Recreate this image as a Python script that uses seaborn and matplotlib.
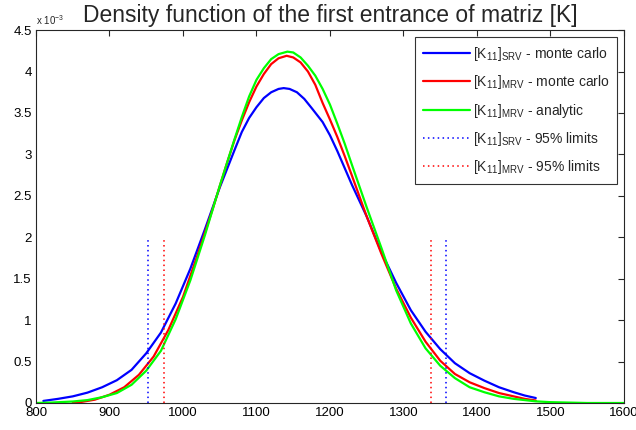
import numpy as np
import pandas as pd
import matplotlib
matplotlib.use("Agg")
import matplotlib.pyplot as plt
import seaborn as sns
from matplotlib.ticker import FuncFormatter

# density values, in units of 1e-3
blue_x = [810, 830, 850, 870, 890, 910, 930, 950, 970, 990, 1010, 1030, 1050, 1070, 1080,
          1090, 1100, 1110, 1120, 1130, 1137, 1145, 1155, 1165, 1175, 1190, 1200, 1210, 1230,
          1250, 1270, 1290, 1310, 1330, 1350, 1370, 1390, 1410, 1430, 1450, 1465, 1480]
blue_y = [0.025, 0.05, 0.08, 0.125, 0.19, 0.275, 0.40, 0.60, 0.85, 1.20, 1.62, 2.10, 2.60,
          3.05, 3.27, 3.44, 3.57, 3.68, 3.75, 3.79, 3.80, 3.79, 3.75, 3.67, 3.56, 3.39, 3.23,
          3.04, 2.63, 2.25, 1.82, 1.45, 1.12, 0.86, 0.65, 0.48, 0.36, 0.27, 0.19, 0.13, 0.09,
          0.06]

red_x = [850, 860, 880, 900, 920, 940, 960, 980, 1000, 1020, 1040, 1060, 1070, 1080, 1090,
         1100, 1110, 1120, 1130, 1141, 1150, 1160, 1170, 1180, 1190, 1200, 1210, 1220, 1230,
         1250, 1270, 1290, 1310, 1330, 1350, 1370, 1390, 1410, 1430, 1450, 1465, 1480]
red_y = [0.005, 0.01, 0.04, 0.10, 0.19, 0.34, 0.56, 0.88, 1.28, 1.79, 2.33, 2.90, 3.17, 3.41,
         3.63, 3.82, 3.97, 4.09, 4.16, 4.19, 4.17, 4.11, 4.00, 3.84, 3.62, 3.42, 3.21, 2.98,
         2.74, 2.25, 1.80, 1.38, 1.03, 0.74, 0.51, 0.35, 0.25, 0.18, 0.12, 0.08, 0.05, 0.03]

green_x = [800, 820, 850, 870, 890, 910, 930, 950, 970, 990, 1010, 1030, 1050, 1070, 1080,
           1090, 1100, 1110, 1120, 1130, 1142, 1150, 1160, 1170, 1180, 1190, 1200, 1210, 1220,
           1230, 1250, 1270, 1290, 1310, 1330, 1350, 1370, 1390, 1410, 1430, 1450, 1480, 1500,
           1550, 1600]
green_y = [0.0, 0.005, 0.018, 0.035, 0.07, 0.12, 0.22, 0.39, 0.63, 1.01, 1.48, 2.03, 2.62,
           3.18, 3.45, 3.70, 3.90, 4.04, 4.15, 4.21, 4.24, 4.23, 4.17, 4.07, 3.95, 3.79, 3.60,
           3.37, 3.13, 2.87, 2.36, 1.87, 1.36, 0.96, 0.66, 0.45, 0.30, 0.19, 0.13, 0.08, 0.05,
           0.02, 0.01, 0.0, 0.0]

srv_limits = [953, 1358]
mrv_limits = [974, 1338]
limit_top = 2.0

labels = [r"$[\mathrm{K}_{11}]_{\mathrm{SRV}}$ - monte carlo",
          r"$[\mathrm{K}_{11}]_{\mathrm{MRV}}$ - monte carlo",
          r"$[\mathrm{K}_{11}]_{\mathrm{MRV}}$ - analytic",
          r"$[\mathrm{K}_{11}]_{\mathrm{SRV}}$ - 95% limits",
          r"$[\mathrm{K}_{11}]_{\mathrm{MRV}}$ - 95% limits"]

sns.set_style("white")
plt.rcParams["font.family"] = ["Liberation Sans", "DejaVu Sans"]
plt.rcParams["mathtext.fontset"] = "custom"
plt.rcParams["mathtext.rm"] = "Liberation Sans"
plt.rcParams["mathtext.it"] = "Liberation Sans:italic"

fig = plt.figure(figsize=(6.36, 4.30), dpi=100)
ax = fig.add_axes([0.0566, 0.0628, 0.9245, 0.8672])

sc = 1e-3
sns.lineplot(x=blue_x, y=np.array(blue_y) * sc, color="#0000ff", lw=1.6, ax=ax, label=labels[0])
sns.lineplot(x=red_x, y=np.array(red_y) * sc, color="#ff0000", lw=1.6, ax=ax, label=labels[1])
sns.lineplot(x=green_x, y=np.array(green_y) * sc, color="#00ff00", lw=1.6, ax=ax, label=labels[2])
ax.vlines(srv_limits, 0, limit_top * sc, colors="#0000ff", linestyles=(0, (1, 2.2)), lw=1.1, label=labels[3])
ax.vlines(mrv_limits, 0, limit_top * sc, colors="#ff0000", linestyles=(0, (1, 2.2)), lw=1.1, label=labels[4])

ax.set_xlim(800, 1600)
ax.set_ylim(0, 4.5e-3)
ax.set_xticks(range(800, 1601, 100))
ax.set_yticks(np.arange(0, 4.51e-3, 0.5e-3))
ax.yaxis.set_major_formatter(FuncFormatter(lambda v, p: f"{v / sc:g}"))
ax.tick_params(direction="in", length=4, width=0.8, labelsize=9.5, top=True, right=True,
               colors="#262626", labelcolor="black", pad=3)
for s in ax.spines.values():
    s.set_color("#262626")
    s.set_linewidth(0.8)

ax.set_title("Density function of the first entrance of matriz [K]", fontsize=16.5, pad=6)
ax.text(0.0, 1.008, r"x 10$^{-3}$", transform=ax.transAxes, fontsize=7, va="bottom", ha="left")

leg = ax.legend(loc="upper right", fontsize=10, handlelength=3.4, frameon=True, fancybox=False,
                edgecolor="black", borderaxespad=0.5, labelspacing=0.75, handletextpad=0.2,
                borderpad=0.55)
leg.get_frame().set_linewidth(0.8)

fig.savefig("out.png", dpi=100)
